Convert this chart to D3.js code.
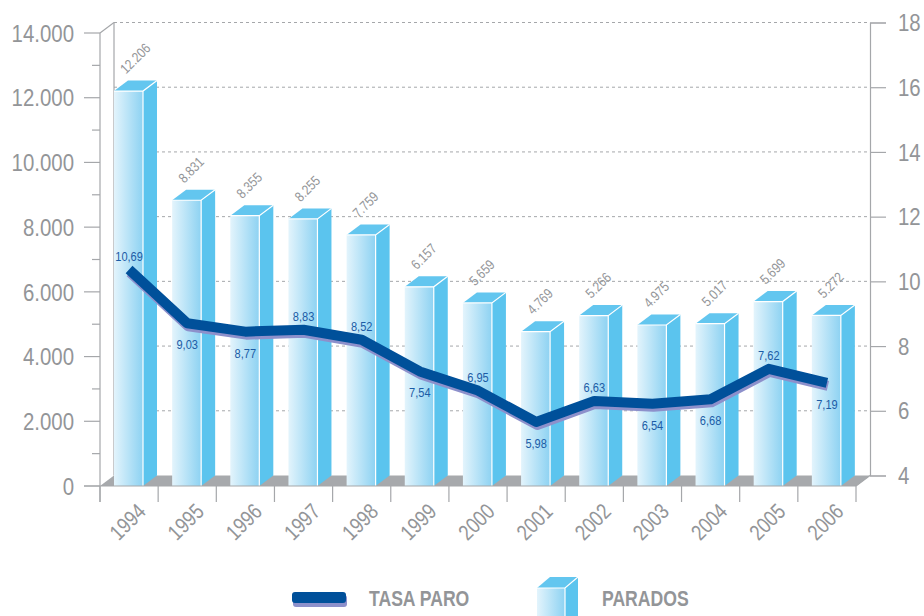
<!DOCTYPE html>
<html>
<head>
<meta charset="utf-8">
<script src="https://cdn.jsdelivr.net/npm/d3@7"></script>
<style>
  html, body { margin: 0; padding: 0; background: #fff; }
  svg { display: block; }
  text { font-family: "Liberation Sans", Arial, sans-serif; }
</style>
</head>
<body>
<div id="chart"></div>
<script>
// datos
const years   = ["1994","1995","1996","1997","1998","1999","2000","2001","2002","2003","2004","2005","2006"];
const parados = [12206, 8831, 8355, 8255, 7759, 6157, 5659, 4769, 5266, 4975, 5017, 5699, 5272];
const tasaParo = [10.69, 9.03, 8.77, 8.83, 8.52, 7.54, 6.95, 5.98, 6.63, 6.54, 6.68, 7.62, 7.19];
const leftTicks  = [0, 2000, 4000, 6000, 8000, 10000, 12000, 14000];
const rightTicks = [4, 6, 8, 10, 12, 14, 16, 18];
const legendLabels = ["TASA PARO", "PARADOS"];

const width = 924, height = 616;
const x0 = 100, x1 = 856, yBase = 486, yTop = 33;
const dx = 14, dy = -10.5;           // profundidad 3D
const grey = "#939598", blueTxt = "#1b5ca6", lineBlue = "#00509a", axisCol = "#a5a7aa";

// etiquetas de tasa que van arriba del punto
const rateAbove = new Set(["1994","1997","1998","2000","2002","2005"]);

const es = d3.formatLocale({decimal: ",", thousands: ".", grouping: [3], currency: ["", "€"]});
const fmtInt = es.format(",d");
const fmtDec = es.format(".2f");

// texto "condensado": escala horizontal
const squeeze = (tx, ty, sx, rot = 0) => `translate(${tx},${ty}) rotate(${rot}) scale(${sx},1)`;

const svg = d3.select("#chart").append("svg")
  .attr("width", width).attr("height", height);

const defs = svg.append("defs");
const grad = defs.append("linearGradient").attr("id", "front")
  .attr("x1", "0%").attr("x2", "100%").attr("y1", "0%").attr("y2", "0%");
grad.append("stop").attr("offset", "0%").attr("stop-color", "#e3f4fc");
grad.append("stop").attr("offset", "100%").attr("stop-color", "#8dd2f2");

const x = d3.scaleBand().domain(years).range([x0, x1]).padding(0);
const y = d3.scaleLinear().domain([0, 14000]).range([yBase, yTop]);
const yR = d3.scaleLinear().domain([4, 18]).range([yBase, yTop]);

// pared de fondo: rejilla
svg.append("g").selectAll("line")
  .data(leftTicks.filter(d => d > 0))
  .join("line")
    .attr("x1", x0 + dx).attr("x2", x1 + dx)
    .attr("y1", d => y(d) + dy).attr("y2", d => y(d) + dy)
    .attr("stroke", axisCol).attr("stroke-width", 1)
    .attr("stroke-dasharray", "3,3");

// bordes de la pared
const edges = svg.append("g").attr("stroke", axisCol).attr("fill", "none").attr("stroke-width", 1.2);
edges.append("line").attr("x1", x0).attr("y1", yTop).attr("x2", x0 + dx).attr("y2", yTop + dy);
edges.append("line").attr("x1", x0 + dx).attr("y1", yTop + dy).attr("x2", x0 + dx).attr("y2", yBase + dy);

// suelo
svg.append("polygon")
  .attr("points", [[x0, yBase], [x1, yBase], [x1 + dx, yBase + dy], [x0 + dx, yBase + dy]].join(" "))
  .attr("fill", "#a7a9ac");

// barras
const bw = 29;
const bars = svg.append("g").selectAll("g")
  .data(years.map((yr, i) => ({yr, v: parados[i]})))
  .join("g")
  .attr("transform", d => `translate(${x(d.yr) + dx},0)`);

bars.append("rect")
  .attr("x", 0).attr("y", d => y(d.v))
  .attr("width", bw).attr("height", d => yBase - y(d.v))
  .attr("fill", "url(#front)");
bars.append("polygon")
  .attr("points", d => [[bw, y(d.v)], [bw + dx, y(d.v) + dy], [bw + dx, yBase + dy], [bw, yBase]].join(" "))
  .attr("fill", "#5bc4ee");
bars.append("polygon")
  .attr("points", d => [[0, y(d.v)], [dx, y(d.v) + dy], [bw + dx, y(d.v) + dy], [bw, y(d.v)]].join(" "))
  .attr("fill", "#63c6ef");
bars.append("path")
  .attr("d", d => `M0,${y(d.v)}H${bw}L${bw + dx},${y(d.v) + dy}M${bw},${y(d.v)}V${yBase}`)
  .attr("stroke", "#fff").attr("stroke-width", 1.2).attr("fill", "none");

// valores de parados
bars.append("text")
  .attr("transform", d => squeeze(12, y(d.v) + dy - 6, 0.84, -45))
  .attr("fill", grey).attr("font-size", 14)
  .text(d => fmtInt(d.v));

// eje izquierdo
const axL = svg.append("g").attr("stroke", axisCol).attr("stroke-width", 1.2);
axL.append("line").attr("x1", x0).attr("x2", x0).attr("y1", yTop).attr("y2", yBase + 16);
axL.selectAll("line.tick")
  .data(d3.range(0, 14001, 1000))
  .join("line")
    .attr("class", "tick")
    .attr("x1", d => d % 2000 === 0 ? x0 - 16 : x0 - 8).attr("x2", x0)
    .attr("y1", d => y(d)).attr("y2", d => y(d));
svg.append("g").selectAll("text")
  .data(leftTicks)
  .join("text")
    .attr("transform", d => squeeze(74, y(d), 0.85))
    .attr("dy", "0.36em")
    .attr("text-anchor", "end")
    .attr("fill", grey).attr("font-size", 24)
    .text(d => fmtInt(d));

// línea base y marcas de años
const axB = svg.append("g").attr("stroke", axisCol).attr("stroke-width", 1.2);
axB.append("line").attr("x1", x0 - 16).attr("x2", x1).attr("y1", yBase).attr("y2", yBase);
axB.selectAll("line.tick")
  .data(years.map(d => x(d)).concat([x1]))
  .join("line")
    .attr("class", "tick")
    .attr("x1", d => d).attr("x2", d => d)
    .attr("y1", yBase).attr("y2", yBase + 16);
svg.append("g").selectAll("text")
  .data(years)
  .join("text")
    .attr("transform", d => squeeze(x(d) + x.bandwidth() / 2 + 18, yBase + 27, 0.82, -45))
    .attr("text-anchor", "end")
    .attr("fill", grey).attr("font-size", 22)
    .text(d => d);

// eje derecho (en la pared del fondo)
const axR = svg.append("g").attr("transform", `translate(${x1 + dx},${dy})`);
axR.call(d3.axisRight(yR).tickValues(rightTicks).tickSize(16).tickFormat(""));
axR.select(".domain").attr("stroke", axisCol).attr("stroke-width", 1.2);
axR.selectAll(".tick line").attr("stroke", axisCol).attr("stroke-width", 1.2);
axR.append("g").selectAll("text")
  .data(rightTicks)
  .join("text")
    .attr("transform", d => squeeze(28, yR(d), 0.85))
    .attr("dy", "0.36em")
    .attr("fill", grey).attr("font-size", 24)
    .text(d => d);
svg.append("line")
  .attr("x1", x1 + dx).attr("y1", yBase + dy).attr("x2", x1).attr("y2", yBase)
  .attr("stroke", axisCol).attr("stroke-width", 1.2);

// línea de tasa de paro
const pts = years.map((yr, i) => ({yr, v: tasaParo[i], px: x(yr) + x.bandwidth() / 2, py: yR(tasaParo[i])}));
const line = d3.line().x(d => d.px).y(d => d.py);
svg.append("path")
  .datum(pts)
  .attr("d", line)
  .attr("transform", "translate(1,3)")
  .attr("fill", "none").attr("stroke", "#8d90cb").attr("stroke-width", 10)
  .attr("stroke-linejoin", "round");
svg.append("path")
  .datum(pts)
  .attr("d", line)
  .attr("fill", "none").attr("stroke", lineBlue).attr("stroke-width", 10)
  .attr("stroke-linejoin", "round");

svg.append("g").selectAll("text")
  .data(pts)
  .join("text")
    .attr("transform", d => squeeze(d.px, rateAbove.has(d.yr) ? d.py - 9 : d.py + 26, 0.82))
    .attr("text-anchor", "middle")
    .attr("fill", blueTxt).attr("font-size", 13.5)
    .text(d => fmtDec(d.v));

// leyenda
const lg = svg.append("g");
lg.append("rect").attr("x", 293).attr("y", 595).attr("width", 54).attr("height", 12)
  .attr("rx", 3).attr("fill", "#8d90cb");
lg.append("rect").attr("x", 292).attr("y", 592).attr("width", 54).attr("height", 11)
  .attr("rx", 3).attr("fill", lineBlue);
lg.append("text").attr("transform", squeeze(369, 598, 0.8))
  .attr("dy", "0.36em")
  .attr("fill", grey).attr("font-size", 22).attr("font-weight", "bold")
  .text(legendLabels[0]);

const cx = 537, cy = 588, cw = 28;
lg.append("rect").attr("x", cx).attr("y", cy).attr("width", cw).attr("height", 40).attr("fill", "url(#front)");
lg.append("polygon")
  .attr("points", [[cx + cw, cy], [cx + cw + 13, cy - 11], [cx + cw + 13, 630], [cx + cw, 630]].join(" "))
  .attr("fill", "#5bc4ee");
lg.append("polygon")
  .attr("points", [[cx, cy], [cx + 13, cy - 11], [cx + cw + 13, cy - 11], [cx + cw, cy]].join(" "))
  .attr("fill", "#63c6ef");
lg.append("path")
  .attr("d", `M${cx},${cy}H${cx + cw}L${cx + cw + 13},${cy - 11}M${cx + cw},${cy}V630`)
  .attr("stroke", "#fff").attr("stroke-width", 1.2).attr("fill", "none");
lg.append("text").attr("transform", squeeze(602, 598, 0.8))
  .attr("dy", "0.36em")
  .attr("fill", grey).attr("font-size", 22).attr("font-weight", "bold")
  .text(legendLabels[1]);
</script>
</body>
</html>
